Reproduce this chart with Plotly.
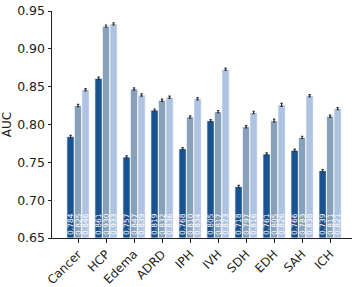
import plotly.graph_objects as go

categories = ["Cancer", "HCP", "Edema", "ADRD", "IPH", "IVH", "SDH", "EDH", "SAH", "ICH"]
series_a = [0.784, 0.861, 0.757, 0.819, 0.768, 0.805, 0.718, 0.761, 0.766, 0.739]
series_b = [0.825, 0.930, 0.847, 0.832, 0.810, 0.817, 0.797, 0.805, 0.783, 0.811]
series_c = [0.846, 0.933, 0.839, 0.836, 0.834, 0.873, 0.816, 0.826, 0.838, 0.821]
err_a = [0.0015, 0.0015, 0.0015, 0.0015, 0.0015, 0.0015, 0.0015, 0.0015, 0.0015, 0.0015]
err_b = [0.0015, 0.0015, 0.0015, 0.0015, 0.0015, 0.0015, 0.0015, 0.0020, 0.0015, 0.0015]
err_c = [0.0015, 0.0015, 0.0015, 0.0015, 0.0015, 0.0015, 0.0015, 0.0020, 0.0015, 0.0015]
colors = ["#1a5290", "#88a1bb", "#aec3e2"]
y_min, y_max = 0.65, 0.95
y_ticks = [0.65, 0.70, 0.75, 0.80, 0.85, 0.90, 0.95]

fig = go.Figure()
for vals, errs, col in zip([series_a, series_b, series_c], [err_a, err_b, err_c], colors):
    fig.add_trace(go.Bar(
        x=list(range(len(categories))),
        y=[v - y_min for v in vals],
        base=y_min,
        marker=dict(color=col, line=dict(color="white", width=0.8)),
        error_y=dict(type="data", array=errs, color="#333333", thickness=1.2, width=1.2),
        text=[f"{v:.3f}" for v in vals],
        textposition="inside",
        insidetextanchor="start",
        textangle=-90,
        textfont=dict(color="white", size=7.5, family="DejaVu Sans"),
        constraintext="none",
        hoverinfo="skip",
        showlegend=False,
    ))

fig.update_layout(
    width=359, height=287,
    margin=dict(l=52, r=7, t=11, b=49),
    barmode="group", bargap=0.2, bargroupgap=0,
    hovermode=False,
    plot_bgcolor="white", paper_bgcolor="white",
    font=dict(family="DejaVu Sans", color="#222222", size=12),
    xaxis=dict(
        range=[-0.93, 9.78], automargin=False,
        tickmode="array", tickvals=list(range(len(categories))), ticktext=categories,
        tickangle=-45, ticks="outside", ticklen=3.5, tickcolor="#222222",
        showline=True, linecolor="#222222", linewidth=1, showgrid=False, zeroline=False,
        tickfont=dict(size=12),
    ),
    yaxis=dict(
        range=[y_min, y_max], tickvals=y_ticks, ticktext=[f"{t:.2f}" for t in y_ticks],
        automargin=False,
        ticks="outside", ticklen=3.5, tickcolor="#222222",
        showline=True, linecolor="#222222", linewidth=1, showgrid=False, zeroline=False,
        title=dict(text="AUC", standoff=2, font=dict(size=12)),
        tickfont=dict(size=12.5),
    ),
)
fig.write_html("out.html", config={"displayModeBar": False, "staticPlot": True},
               post_script="document.body.style.margin='0';document.body.style.overflow='hidden';")
